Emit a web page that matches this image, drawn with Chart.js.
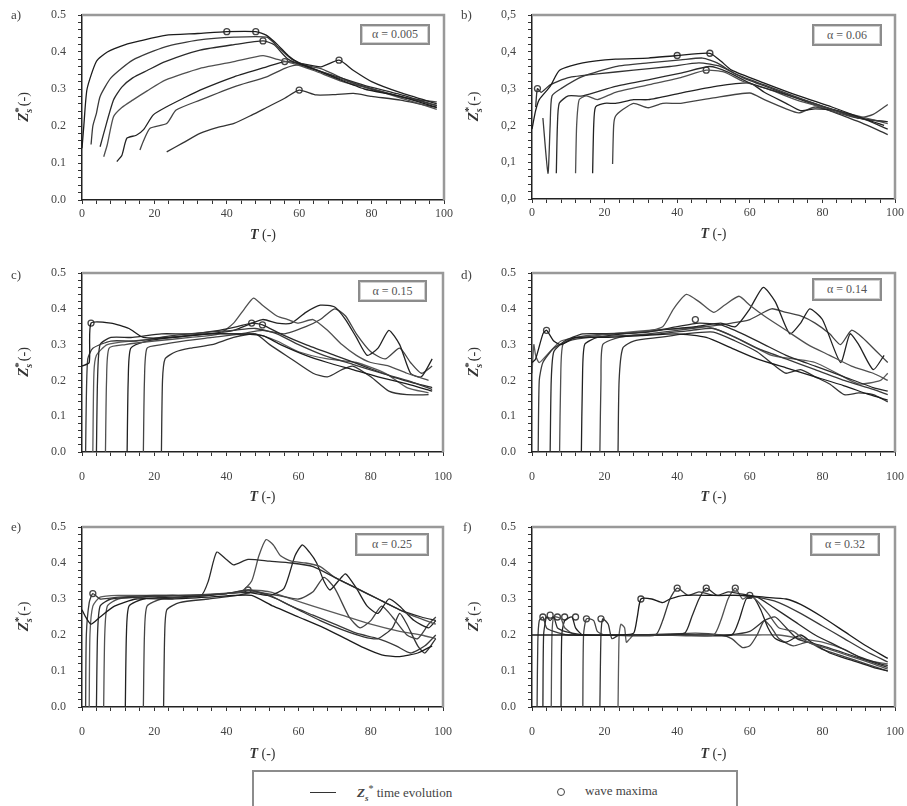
<!DOCTYPE html>
<html>
<head>
<meta charset="utf-8">
<script src="https://cdn.jsdelivr.net/npm/chart.js@4.4.1/dist/chart.umd.min.js"></script>
<style>
  body { margin: 0; background: #fff; font-family: 'Liberation Serif', serif; color: #333; }
  #wrap { position: relative; width: 907px; height: 806px; overflow: hidden; }
  canvas { position: absolute; }
  .lbl { position: absolute; font-size: 13px; color: #444; }
  .alpha { position: absolute; border: 2px solid #8c8c8c; box-shadow: inset 0 0 0 1px #d0d0d0; font-size: 12px; color: #555; text-align: center; background: #fff; }
  #legend { position: absolute; left: 252px; top: 770px; width: 482px; height: 50px; border: 2.5px solid #8c8c8c; border-bottom: none; font-size: 13px; color: #444; }
</style>
</head>
<body>
<div id="wrap">
  <canvas id="cA" width="462" height="250" style="left:0;top:0"></canvas>
  <canvas id="cB" width="457" height="250" style="left:450px;top:0"></canvas>
  <canvas id="cC" width="462" height="260" style="left:0;top:255px"></canvas>
  <canvas id="cD" width="457" height="260" style="left:450px;top:255px"></canvas>
  <canvas id="cE" width="462" height="260" style="left:0;top:510px"></canvas>
  <canvas id="cF" width="457" height="260" style="left:450px;top:510px"></canvas>

  <div class="lbl" style="left:11px;top:7px">a)</div>
  <div class="lbl" style="left:461px;top:7px">b)</div>
  <div class="lbl" style="left:11px;top:267px">c)</div>
  <div class="lbl" style="left:461px;top:267px">d)</div>
  <div class="lbl" style="left:11px;top:519px">e)</div>
  <div class="lbl" style="left:463px;top:519px">f)</div>

  <div class="alpha" style="left:360px;top:24px;width:66px;height:17px;line-height:17px">α = 0.005</div>
  <div class="alpha" style="left:812px;top:24px;width:66px;height:18px;line-height:18px">α = 0.06</div>
  <div class="alpha" style="left:358px;top:280px;width:65px;height:18px;line-height:18px">α = 0.15</div>
  <div class="alpha" style="left:812px;top:278px;width:66px;height:19px;line-height:19px">α = 0.14</div>
  <div class="alpha" style="left:355px;top:533px;width:70px;height:19px;line-height:19px">α = 0.25</div>
  <div class="alpha" style="left:810px;top:533px;width:66px;height:19px;line-height:19px">α = 0.32</div>

  <div id="legend">
    <div style="position:absolute;left:56px;top:20px;width:26px;border-top:1.5px solid #333"></div>
    <div style="position:absolute;left:103px;top:11px;white-space:nowrap"><b><i>Z</i></b><sub style="font-size:9px"><b><i>s</i></b></sub><sup style="font-size:10px">*</sup> time evolution</div>
    <div style="position:absolute;left:303px;top:16px;width:6px;height:6px;border:1.5px solid #444;border-radius:50%"></div>
    <div style="position:absolute;left:331px;top:11px;white-space:nowrap">wave maxima</div>
  </div>
</div>

<script>
// [T, Z] pairs, one array per test run
const linesA = [
  [[0,0.14],[0.5,0.2],[1.4,0.30],[4,0.375],[7,0.40],[12,0.42],[16,0.43],[23,0.445],[32,0.45],[40,0.455],[48,0.455],[51,0.445],[54,0.42],[57,0.39],[60,0.37],[65,0.35],[70,0.33],[78,0.30],[88,0.28],[98,0.25]],
  [[2.5,0.15],[3,0.2],[4,0.235],[5,0.28],[8,0.33],[14,0.378],[23,0.414],[32,0.432],[42,0.44],[51,0.44],[54,0.415],[58,0.38],[64,0.355],[72,0.325],[80,0.30],[90,0.275],[98,0.255]],
  [[5,0.144],[6,0.18],[8.7,0.27],[11,0.305],[14,0.33],[18,0.35],[23,0.374],[32.6,0.405],[42,0.42],[50,0.43],[53,0.42],[57,0.38],[62,0.36],[70,0.335],[78,0.31],[88,0.285],[98,0.255]],
  [[6,0.117],[7,0.15],[8.7,0.225],[11,0.25],[14,0.27],[18,0.295],[23,0.324],[32.6,0.356],[42,0.374],[50,0.39],[54,0.38],[58,0.37],[64,0.35],[72,0.32],[80,0.30],[90,0.27],[98,0.245]],
  [[9.6,0.104],[11,0.12],[12.4,0.167],[15,0.175],[17,0.19],[19.7,0.23],[23.4,0.252],[28,0.275],[32.6,0.297],[42,0.333],[51,0.36],[56,0.374],[60,0.37],[66,0.36],[71,0.378],[75,0.35],[80,0.32],[88,0.29],[98,0.26]],
  [[16,0.135],[17,0.16],[18.8,0.194],[23.4,0.207],[26,0.243],[32.6,0.27],[42,0.306],[51,0.333],[56,0.356],[60,0.365],[66,0.355],[74,0.32],[82,0.295],[90,0.275],[98,0.265]],
  [[23.4,0.13],[28,0.155],[32.6,0.18],[37,0.195],[42,0.207],[47,0.23],[51,0.25],[56,0.275],[60,0.297],[64.7,0.284],[70,0.285],[75,0.288],[80,0.28],[88,0.27],[98,0.25]]
];
const maximaA = [[40,0.455],[48,0.455],[50,0.43],[56,0.374],[60,0.297],[71,0.378]];

const linesB = [
  [[0,0.19],[1,0.24],[2,0.27],[5,0.306],[7.6,0.35],[14,0.37],[23,0.38],[32,0.383],[40,0.39],[49,0.396],[52,0.375],[55,0.35],[64,0.315],[73.5,0.28],[82.6,0.25],[92,0.216],[97,0.2]],
  [[3,0.22],[4.4,0.07],[5,0.2],[5.5,0.28],[8,0.30],[14,0.333],[23,0.36],[32,0.37],[41,0.378],[47,0.383],[51,0.37],[56,0.34],[64,0.31],[72,0.28],[82,0.245],[90,0.22],[97,0.21]],
  [[6.7,0.07],[7,0.2],[7.5,0.26],[10,0.28],[14,0.28],[23,0.306],[32,0.324],[41,0.342],[49,0.36],[54,0.345],[60,0.315],[68,0.29],[76,0.265],[84,0.24],[92,0.215],[98,0.19]],
  [[12,0.07],[12.3,0.2],[13,0.27],[15,0.28],[18,0.27],[23,0.29],[32,0.31],[41,0.33],[48,0.35],[53,0.345],[58,0.32],[66,0.295],[74,0.265],[82,0.245],[90,0.225],[98,0.205]],
  [[16.7,0.07],[17,0.2],[17.5,0.25],[20,0.26],[23,0.26],[28,0.27],[32,0.27],[41,0.288],[50.6,0.306],[60,0.315],[64,0.29],[70,0.26],[74,0.24],[78,0.245],[84,0.24],[90,0.22],[98,0.21]],
  [[22.2,0.095],[22.5,0.2],[23,0.225],[25,0.243],[28,0.26],[32,0.248],[36,0.26],[41,0.26],[50,0.275],[60,0.288],[64,0.27],[70,0.245],[73.5,0.234],[78,0.25],[84,0.235],[90,0.22],[94,0.23],[98,0.257]],
  [[1,0.25],[1.5,0.3],[2.5,0.29],[5,0.31],[10,0.33],[18,0.34],[28,0.35],[38,0.36],[46,0.37],[52,0.36],[58,0.33],[66,0.3],[74,0.27],[82,0.24],[90,0.21],[98,0.175]]
];
const maximaB = [[40,0.39],[49,0.396],[48,0.35],[1.5,0.3]];

const linesC = [
  [[0,0.24],[2,0.25],[2.5,0.36],[8,0.36],[13,0.345],[17,0.32],[25,0.32],[35,0.33],[42,0.33],[50,0.325],[55,0.30],[62,0.27],[68,0.25],[75,0.23],[82,0.21],[90,0.19],[97,0.17]],
  [[1,0],[1.2,0.15],[1.6,0.26],[3,0.29],[8,0.31],[15,0.31],[25,0.325],[35,0.335],[42,0.34],[48,0.345],[54,0.33],[60,0.30],[67,0.27],[75,0.245],[83,0.22],[90,0.2],[97,0.175]],
  [[4,0],[4.3,0.2],[5,0.3],[8,0.32],[14,0.32],[22,0.33],[30,0.33],[38,0.34],[43,0.35],[47,0.36],[50,0.355],[55,0.33],[62,0.30],[70,0.27],[78,0.24],[86,0.21],[93,0.19],[97,0.18]],
  [[6.5,0],[6.8,0.2],[7.5,0.29],[12,0.30],[20,0.31],[30,0.32],[38,0.33],[42,0.36],[45,0.40],[47.5,0.43],[50,0.41],[54,0.38],[57,0.37],[60,0.36],[64,0.37],[68,0.34],[72,0.30],[76,0.27],[80,0.25],[85,0.24],[90,0.22],[96,0.2]],
  [[12.5,0],[12.8,0.2],[13.5,0.29],[18,0.31],[25,0.32],[35,0.33],[42,0.34],[50,0.37],[54,0.36],[58,0.36],[62,0.39],[66,0.41],[70,0.405],[73,0.37],[76,0.32],[79,0.27],[82,0.29],[85,0.34],[88,0.30],[91,0.22],[94,0.21],[97,0.26]],
  [[17,0],[17.3,0.2],[18,0.29],[22,0.30],[28,0.31],[36,0.32],[44,0.33],[50,0.34],[56,0.33],[62,0.35],[66,0.37],[70,0.40],[73,0.38],[76,0.33],[80,0.28],[84,0.26],[88,0.29],[91,0.25],[94,0.22],[97,0.24]],
  [[22,0],[22.3,0.2],[23,0.26],[26,0.28],[30,0.29],[36,0.30],[42,0.32],[48,0.33],[52,0.30],[58,0.26],[64,0.22],[68,0.21],[72,0.23],[75,0.24],[80,0.21],[85,0.17],[90,0.16],[96,0.16]],
  [[3,0],[3.3,0.22],[4,0.27],[7,0.3],[14,0.31],[24,0.32],[34,0.33],[42,0.33],[48,0.33],[54,0.31],[60,0.28],[68,0.26],[76,0.25],[84,0.22],[90,0.18],[96,0.165]]
];
const maximaC = [[47,0.36],[50,0.355],[2.5,0.36]];

const linesD = [
  [[0,0.25],[1,0.26],[3,0.33],[4,0.34],[6,0.31],[8,0.30],[12,0.32],[20,0.32],[30,0.325],[40,0.33],[48,0.32],[55,0.29],[62,0.26],[70,0.235],[78,0.21],[86,0.185],[93,0.16],[98,0.145]],
  [[1.7,0],[2,0.2],[3,0.25],[6,0.29],[10,0.31],[16,0.32],[25,0.325],[35,0.33],[44,0.34],[50,0.345],[56,0.32],[62,0.29],[70,0.26],[78,0.23],[86,0.2],[94,0.175],[98,0.16]],
  [[5,0],[5.3,0.2],[6,0.28],[9,0.31],[14,0.33],[22,0.33],[32,0.335],[40,0.35],[46,0.36],[52,0.355],[58,0.33],[64,0.30],[70,0.27],[78,0.24],[86,0.21],[94,0.18],[98,0.17]],
  [[7.6,0],[7.9,0.2],[8.5,0.3],[12,0.32],[20,0.33],[30,0.335],[36,0.35],[39,0.40],[42.5,0.44],[46,0.42],[50,0.39],[53,0.41],[57,0.435],[60,0.41],[64,0.38],[70,0.34],[76,0.30],[82,0.27],[88,0.24],[94,0.22],[98,0.2]],
  [[13.6,0],[13.9,0.2],[14.5,0.3],[18,0.32],[25,0.33],[35,0.34],[45,0.35],[52,0.36],[56,0.35],[60,0.40],[63.7,0.46],[67,0.42],[71,0.33],[74,0.36],[76.5,0.40],[80,0.37],[85,0.25],[87.6,0.33],[90,0.30],[94,0.23],[97,0.27]],
  [[18.7,0],[19,0.2],[19.5,0.3],[24,0.32],[32,0.33],[40,0.34],[48,0.35],[55,0.36],[60,0.37],[66,0.40],[70,0.39],[74,0.38],[78,0.36],[82,0.33],[85,0.30],[88,0.34],[91,0.32],[95,0.28],[98,0.25]],
  [[23.7,0],[24,0.2],[25,0.29],[28,0.31],[35,0.32],[42,0.33],[50,0.335],[56,0.31],[62,0.28],[67,0.24],[70,0.22],[74,0.23],[78,0.21],[82,0.19],[86,0.16],[90,0.165],[94,0.16],[98,0.14]],
  [[0,0.22],[0.5,0.3],[1,0.27],[2,0.25],[4,0.27],[8,0.31],[14,0.32],[22,0.33],[32,0.34],[42,0.345],[48,0.35],[54,0.33],[60,0.3],[66,0.27],[72,0.26],[78,0.25],[84,0.22],[90,0.19],[96,0.2],[98,0.22]]
];
const maximaD = [[45,0.37],[4,0.34]];

const linesE = [
  [[0,0.27],[1,0.25],[2.5,0.23],[5,0.25],[9,0.28],[15,0.30],[25,0.30],[35,0.305],[42,0.31],[47,0.31],[53,0.28],[60,0.25],[67,0.22],[73,0.19],[78,0.165],[83,0.145],[88,0.14],[93,0.15],[97,0.17]],
  [[1,0],[1.2,0.2],[2,0.29],[3,0.315],[5,0.30],[10,0.305],[20,0.31],[30,0.31],[40,0.315],[46,0.325],[52,0.31],[58,0.28],[64,0.255],[70,0.23],[76,0.205],[82,0.19],[87,0.17],[91,0.15],[95,0.17],[98,0.2]],
  [[4,0],[4.3,0.2],[5,0.28],[8,0.30],[15,0.305],[25,0.31],[33,0.31],[35,0.35],[37.3,0.43],[40,0.41],[42,0.395],[46,0.41],[52,0.405],[58,0.40],[64,0.39],[70,0.36],[76,0.33],[82,0.30],[88,0.27],[94,0.25],[98,0.24]],
  [[6,0],[6.3,0.2],[7,0.28],[10,0.30],[18,0.305],[28,0.31],[38,0.315],[44,0.32],[47,0.35],[49,0.42],[51,0.465],[53,0.45],[55,0.42],[58,0.405],[62,0.40],[66,0.39],[70,0.36],[74,0.34],[78,0.32],[84,0.29],[90,0.26],[98,0.23]],
  [[12,0],[12.3,0.2],[13,0.28],[17,0.30],[25,0.305],[35,0.31],[45,0.32],[52,0.31],[56,0.33],[59,0.42],[61,0.45],[63,0.43],[65,0.40],[67,0.35],[68.7,0.325],[71,0.35],[73,0.37],[76,0.33],[79,0.28],[82,0.26],[85,0.3],[88,0.28],[92,0.24],[96,0.22],[98,0.24]],
  [[17,0],[17.3,0.2],[18,0.28],[22,0.30],[30,0.305],[40,0.315],[48,0.32],[54,0.31],[60,0.30],[64,0.32],[67,0.36],[70,0.33],[74,0.25],[77,0.22],[80,0.24],[83,0.28],[86,0.25],[90,0.20],[93,0.19],[96,0.23],[98,0.25]],
  [[22.6,0],[22.9,0.2],[23.5,0.27],[27,0.29],[35,0.30],[43,0.31],[48,0.32],[54,0.30],[60,0.27],[66,0.24],[72,0.215],[78,0.195],[82,0.19],[86,0.22],[88,0.26],[90,0.23],[93,0.17],[95,0.15],[98,0.19]],
  [[2,0],[2.2,0.2],[3,0.28],[5,0.305],[10,0.31],[20,0.31],[30,0.31],[40,0.315],[46,0.325],[52,0.32],[58,0.30],[64,0.28],[72,0.255],[80,0.23],[88,0.21],[94,0.2],[98,0.19]]
];
const maximaE = [[46,0.325],[3,0.315]];

const linesF = [
  [[0,0.2],[5,0.2],[15,0.2],[25,0.2],[28,0.205],[29,0.25],[30,0.30],[33,0.30],[36,0.29],[38,0.30],[42,0.31],[50,0.31],[58,0.31],[64,0.305],[70,0.30],[74,0.285],[80,0.25],[86,0.21],[92,0.17],[98,0.135]],
  [[1.4,0],[1.6,0.18],[2,0.24],[3,0.25],[4,0.22],[6,0.21],[10,0.2],[20,0.2],[34,0.2],[36,0.24],[38,0.30],[40,0.33],[43,0.31],[46,0.32],[50,0.31],[56,0.31],[62,0.305],[68,0.29],[74,0.26],[80,0.225],[86,0.19],[92,0.155],[98,0.125]],
  [[3,0],[3.2,0.2],[4,0.25],[5,0.24],[6,0.25],[7,0.22],[9,0.21],[15,0.2],[30,0.2],[42,0.205],[44,0.25],[46,0.30],[48,0.33],[51,0.31],[54,0.32],[57,0.315],[62,0.305],[66,0.28],[72,0.24],[78,0.2],[84,0.17],[90,0.14],[96,0.12],[98,0.115]],
  [[5.3,0],[5.5,0.2],[6,0.25],[8,0.245],[9,0.22],[12,0.2],[20,0.2],[35,0.2],[50,0.2],[52,0.24],[54,0.30],[56,0.33],[58,0.30],[60,0.31],[62,0.295],[65,0.26],[68,0.22],[72,0.21],[76,0.18],[82,0.16],[88,0.14],[94,0.12],[98,0.105]],
  [[8,0],[8.2,0.2],[9,0.24],[11,0.25],[12,0.22],[14,0.2],[25,0.2],[40,0.2],[55,0.2],[57,0.24],[59,0.30],[61,0.305],[63,0.27],[65,0.22],[67,0.19],[70,0.18],[74,0.2],[77,0.18],[82,0.15],[88,0.13],[94,0.11],[98,0.10]],
  [[14,0],[14.2,0.2],[15,0.245],[17,0.24],[18,0.21],[20,0.2],[30,0.2],[45,0.205],[52,0.2],[55,0.19],[58,0.165],[60,0.17],[62,0.2],[64,0.24],[66,0.22],[68,0.19],[72,0.17],[76,0.18],[80,0.16],[86,0.14],[92,0.12],[98,0.10]],
  [[18.7,0],[19,0.2],[19.5,0.245],[21,0.23],[22,0.19],[24,0.2],[30,0.2],[40,0.2],[50,0.2],[54,0.2],[60,0.21],[64,0.24],[67,0.25],[70,0.22],[73,0.19],[76,0.18],[80,0.17],[86,0.15],[92,0.13],[98,0.11]],
  [[23.7,0],[24,0.2],[24.5,0.23],[25.5,0.22],[26,0.18],[27,0.19],[28,0.2],[35,0.2],[45,0.2],[55,0.2],[62,0.2],[68,0.2],[74,0.19],[80,0.18],[86,0.16],[92,0.13],[98,0.12]]
];
const maximaF = [[3,0.25],[5,0.255],[7,0.25],[9,0.25],[12,0.25],[15,0.245],[19,0.245],[30,0.30],[40,0.33],[48,0.33],[56,0.33],[60,0.31]];

const lineColors = ['#1c1c1c', '#3a3a3a', '#2a2a2a', '#505050', '#222', '#444', '#333', '#5a5a5a'];

// draws the grey plot frame and the axis titles (Z_s* has sub/superscript)
const framePlugin = {
  id: 'frame',
  afterDraw(chart, args, opts) {
    const { ctx, chartArea: a } = chart;
    ctx.save();
    ctx.strokeStyle = '#999';
    ctx.lineWidth = 2.5;
    ctx.beginPath();
    ctx.moveTo(a.left, a.top);
    ctx.lineTo(a.right, a.top);
    ctx.lineTo(a.right, a.bottom);
    ctx.stroke();

    // x title
    ctx.fillStyle = '#333';
    ctx.textBaseline = 'middle';
    const fT = "bold italic 14px 'Liberation Serif'";
    const fR = "14px 'Liberation Serif'";
    ctx.font = fT; const wT = ctx.measureText('T').width;
    ctx.font = fR; const wR = ctx.measureText(' (-)').width;
    let x = (a.left + a.right) / 2 - (wT + wR) / 2;
    const y = a.bottom + opts.titleOff;
    ctx.font = fT; ctx.fillText('T', x, y);
    ctx.font = fR; ctx.fillText(' (-)', x + wT, y);

    // y title, rotated
    ctx.translate(a.left - 58, (a.top + a.bottom) / 2);
    ctx.rotate(-Math.PI / 2);
    const fZ = "bold italic 15px 'Liberation Serif'";
    const fS = "bold italic 10px 'Liberation Serif'";
    const fStar = "bold 11px 'Liberation Serif'";
    ctx.font = fZ; const wZ = ctx.measureText('Z').width;
    ctx.font = fS; const wS = ctx.measureText('s').width;
    ctx.font = fStar; const wStar = ctx.measureText('*').width;
    ctx.font = fR; const wP = ctx.measureText('(-)').width;
    x = -(wZ + Math.max(wS, wStar) + wP) / 2;
    ctx.font = fZ; ctx.fillText('Z', x, 0);
    ctx.font = fS; ctx.fillText('s', x + wZ, 5);
    ctx.font = fStar; ctx.fillText('*', x + wZ, -5);
    ctx.font = fR; ctx.fillText('(-)', x + wZ + Math.max(wS, wStar) + 1, 0);
    ctx.restore();
  }
};

function makePanel(p) {
  const canvas = document.getElementById(p.id);
  const W = canvas.width, H = canvas.height;
  const datasets = p.lines.map((ln, i) => ({
    data: ln.map(([x, y]) => ({ x, y })),
    borderColor: lineColors[i % lineColors.length],
    borderWidth: 1.3,
    pointRadius: 0,
    tension: 0.2,
    fill: false
  }));
  datasets.push({
    type: 'scatter',
    data: p.maxima.map(([x, y]) => ({ x, y })),
    pointRadius: 3,
    pointBorderColor: '#444',
    pointBackgroundColor: '#fff',
    pointBorderWidth: 1.3,
    showLine: false
  });

  const tickFont = { family: "'Liberation Serif', serif", size: 12 };
  const grid = {
    display: true,
    drawOnChartArea: false,
    drawTicks: true,
    tickLength: 4,
    color: '#333',
    lineWidth: 1
  };

  new Chart(canvas, {
    type: 'line',
    data: { datasets },
    options: {
      responsive: false,
      animation: false,
      events: [],
      layout: {
        padding: { top: p.area.top - p.top, right: p.left + W - p.area.right, left: 0, bottom: 0 }
      },
      plugins: {
        legend: { display: false },
        tooltip: { enabled: false },
        frame: { titleOff: p.titleOff }
      },
      scales: {
        x: {
          type: 'linear',
          min: 0,
          max: 100,
          grid,
          border: { display: true, color: '#222', width: 1.5 },
          ticks: {
            stepSize: 4,
            autoSkip: false,
            maxRotation: 0,
            padding: p.tickPad,
            color: '#444',
            font: tickFont,
            callback: v => (v % 20 === 0 ? String(v) : '')
          },
          afterFit: s => {
            s.height = p.top + H - p.area.bottom;
            s.paddingLeft = 0; s.paddingRight = 0;
          }
        },
        y: {
          min: 0,
          max: 0.5,
          grid,
          border: { display: true, color: '#222', width: 1.5 },
          ticks: {
            stepSize: 0.02,
            autoSkip: false,
            padding: 12,
            color: '#444',
            font: tickFont,
            callback: v => {
              const r = Math.round(v * 100);
              if (r % 10 !== 0) return '';
              const s = (r / 100).toFixed(1);
              return p.comma ? s.replace('.', ',') : s;
            }
          },
          afterFit: s => {
            s.width = p.area.left - p.left;
            s.paddingTop = 0; s.paddingBottom = 0;
          }
        }
      }
    },
    plugins: [framePlugin]
  });
}

makePanel({ id: 'cA', left: 0, top: 0, area: { left: 82, top: 15, right: 444, bottom: 200 }, tickPad: 3, titleOff: 35, lines: linesA, maxima: maximaA, comma: false });
makePanel({ id: 'cB', left: 450, top: 0, area: { left: 532, top: 15, right: 895, bottom: 199 }, tickPad: 3, titleOff: 35, lines: linesB, maxima: maximaB, comma: true });
makePanel({ id: 'cC', left: 0, top: 255, area: { left: 82, top: 273, right: 443, bottom: 452 }, tickPad: 14, titleOff: 45, lines: linesC, maxima: maximaC, comma: false });
makePanel({ id: 'cD', left: 450, top: 255, area: { left: 532, top: 273, right: 895, bottom: 452 }, tickPad: 14, titleOff: 45, lines: linesD, maxima: maximaD, comma: false });
makePanel({ id: 'cE', left: 0, top: 510, area: { left: 82, top: 527, right: 443, bottom: 707 }, tickPad: 14, titleOff: 47, lines: linesE, maxima: maximaE, comma: false });
makePanel({ id: 'cF', left: 450, top: 510, area: { left: 532, top: 527, right: 895, bottom: 707 }, tickPad: 14, titleOff: 47, lines: linesF, maxima: maximaF, comma: false });
</script>
</body>
</html>
